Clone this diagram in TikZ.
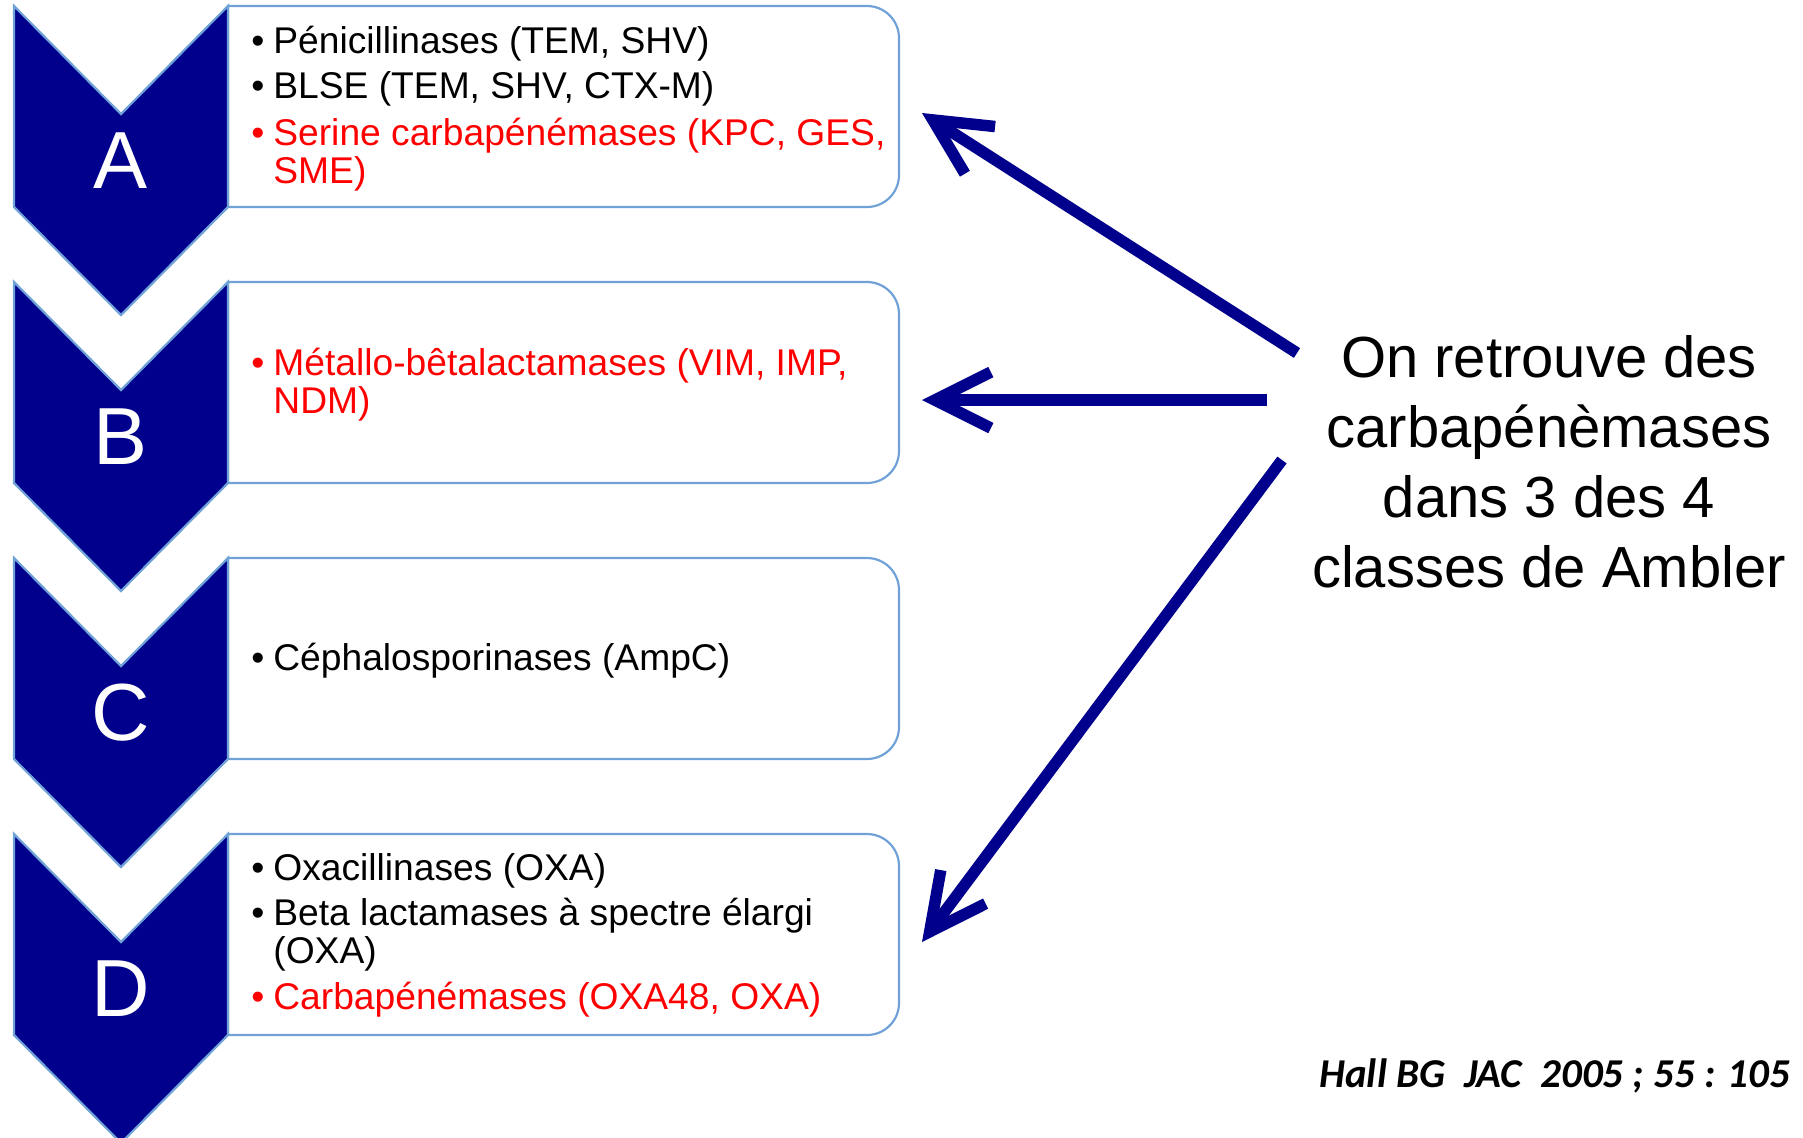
\documentclass[tikz,border=0pt]{standalone}
\usepackage{fontspec}
\setmainfont{Liberation Sans}
\newfontfamily\citefont{Carlito}
\usepackage{xcolor}
\usetikzlibrary{arrows.meta, positioning, calc}

\definecolor{navy}{RGB}{0,0,140}
\definecolor{edgeblue}{RGB}{112,162,216}
\definecolor{itemred}{RGB}{255,0,0}

\newcommand{\itembul}{\llap{\textbullet\hspace{4.5pt}}}

\tikzset{
    chevron/.style={fill=navy, draw=edgeblue, line width=1.1pt},
    classbox/.style={fill=white, draw=edgeblue, line width=1.1pt},
    letter/.style={text=white, inner sep=0pt, font=\fontsize{40.5}{44}\selectfont},
    item/.style={anchor=base west, align=left, inner sep=0pt, font=\fontsize{18.6}{19}\selectfont},
    note/.style={align=center, inner sep=0pt, font=\fontsize{29}{35}\selectfont},
    pointer/.style={draw=navy, line width=5.75pt, -{Straight Barb[length=28pt,width=28pt]}},
}

\begin{document}
\begin{tikzpicture}[x=0.5pt,y=-0.5pt]
    \useasboundingbox (0,0) rectangle (1803,1137);

    %--------------------------------
    % Classes A-D: box + chevron
    %--------------------------------
    \foreach \k/\lab in {0/A,1/B,2/C,3/D}{
        \pgfmathsetmacro{\y}{6+276*\k}
        \draw[classbox] (560,\y) [rounded corners=16pt] -- (899,\y) -- (899,\y+201)
            -- (560,\y+201) [sharp corners] -- (228,\y+201) -- (228,\y) -- cycle;
        \coordinate (box\lab) at (899,\y+100);
        \draw[chevron] (14,\y) -- (121,\y+108) -- (228,\y) -- (228,\y+201)
            -- (121,\y+309) -- (14,\y+201) -- cycle;
        \node[letter] (cls\lab) at (121,\y+155) {\lab};
    }

    %--------------------------------
    % Enzymes par classe
    % (two-line items: base = last line)
    %--------------------------------
    \node[item] (itemA1) at (273,53) {\itembul P\'enicillinases (TEM, SHV)};
    \node[item] (itemA2) at (273,98) {\itembul BLSE (TEM, SHV, CTX-M)};
    \node[item, text=itemred] (itemA3) at (273,183) {\itembul Serine carbap\'en\'emases (KPC, GES,\\SME)};

    \node[item, text=itemred] (itemB1) at (273,413) {\itembul M\'etallo-b\^etalactamases (VIM, IMP,\\NDM)};

    \node[item] (itemC1) at (273,670) {\itembul C\'ephalosporinases (AmpC)};

    \node[item] (itemD1) at (273,880) {\itembul Oxacillinases (OXA)};
    \node[item] (itemD2) at (273,963) {\itembul Beta lactamases \`a spectre \'elargi\\(OXA)};
    \node[item, text=itemred] (itemD3) at (273,1009) {\itembul Carbap\'en\'emases (OXA48, OXA)};

    %--------------------------------
    % Remarque + fleches
    %--------------------------------
    \node[note] (note) at (1549,462) {On retrouve des\\carbap\'en\`emases\\dans 3 des 4\\classes de Ambler};

    \coordinate (tailA) at (1297,353);
    \coordinate (tailB) at (1267,400);
    \coordinate (tailD) at (1282,460);
    \coordinate (tipA) at ($(boxA)+(23,7)$);
    \coordinate (tipB) at ($(boxB)+(23,18)$);
    \coordinate (tipD) at ($(boxD)+(23,8)$);

    \draw[pointer] (tailA) -- (tipA);
    \draw[pointer] (tailB) -- (tipB);
    \draw[pointer] (tailD) -- (tipD);

    % reference
    \node[anchor=base west, inner sep=0pt, font=\citefont\bfseries\itshape\fontsize{20.5}{22}\selectfont] (cite) at (1319,1087) {Hall BG\ \ JAC\ \ 2005 ; 55 : 105};

\end{tikzpicture}
\end{document}
